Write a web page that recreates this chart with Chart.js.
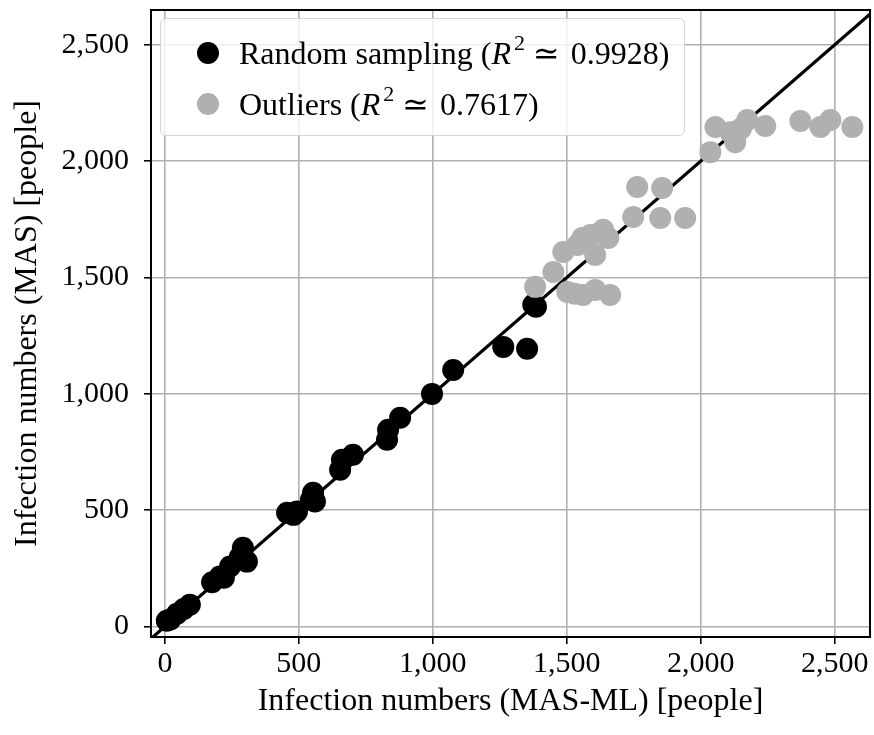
<!DOCTYPE html>
<html>
<head>
<meta charset="utf-8">
<script src="https://cdn.jsdelivr.net/npm/chart.js@4.4.0/dist/chart.umd.min.js"></script>
<style>
  body { margin: 0; background: #fff; }
  #wrap { position: relative; width: 874px; height: 735px; }
  #legend {
    position: absolute; left: 160px; top: 18px; width: 523px; height: 116px;
    border: 1.5px solid #d4d4d4; border-radius: 6px; background: rgba(255,255,255,0.8);
    font-family: "Liberation Serif", "DejaVu Serif", serif; font-size: 32px; color: #000;
  }
  .row { position: absolute; left: 0; height: 36px; line-height: 36px; white-space: nowrap; }
  .dot { position: absolute; left: 36px; top: 7px; width: 22px; height: 22px; border-radius: 50%; }
  .txt { position: absolute; left: 78px; top: 0; }
  .txt i { font-style: italic; }
  .txt sup { font-size: 22px; line-height: 0; vertical-align: 14px; padding-left: 3px; }
  .txt .op { padding: 0 11px 0 8px; }
</style>
</head>
<body>
<div id="wrap">
  <canvas id="grafico" width="874" height="735"></canvas>
  <div id="legend">
    <div class="row" style="top:16px"><div class="dot" style="background:#000"></div>
      <div class="txt">Random sampling (<i>R</i><sup>2</sup><span class="op">≃</span>0.9928)</div></div>
    <div class="row" style="top:67px"><div class="dot" style="background:#b0b0b0"></div>
      <div class="txt">Outliers (<i>R</i><sup>2</sup><span class="op">≃</span>0.7617)</div></div>
  </div>
</div>
<script>
(function() {

// muestreo aleatorio (negro)
const randomX = [7, 20, 45, 70, 93, 176, 205, 220, 243, 291, 306, 280,
                 456, 493, 480, 553, 560, 545, 654, 661, 702, 829, 833, 878,
                 997, 1076, 1263, 1352, 1375, 1385];
const randomY = [25, 30, 55, 75, 94, 190, 215, 210, 258, 339, 279, 300,
                 489, 494, 480, 575, 537, 545, 674, 717, 738, 803, 846, 897,
                 1000, 1103, 1202, 1194, 1383, 1375];

// outliers (gris)
const outX = [1382, 1450, 1487, 1502, 1530, 1561, 1606, 1662,
              1540, 1558, 1588, 1636, 1655, 1606, 1620, 1575,
              1748, 1763, 1856, 1849, 1942,
              2036, 2055, 2129, 2111, 2174, 2241, 2150,
              2372, 2447, 2484, 2566];
const outY = [1460, 1524, 1610, 1438, 1430, 1425, 1447, 1425,
              1640, 1670, 1683, 1705, 1670, 1597, 1690, 1650,
              1760, 1889, 1885, 1756, 1756,
              2039, 2147, 2082, 2125, 2177, 2151, 2140,
              2173, 2147, 2177, 2147];

// linea y = x
const lineaX = [-100, 2800];

// ticks de los ejes
const tickVals = [0, 500, 1000, 1500, 2000, 2500];

const axMin = [-52, -45];
const axMax = [2632, 2650];

function toPts(xs, ys) {
    return xs.map((x, i) => ({ x: x, y: ys[i] }));
}

const fuente = "'Liberation Serif', 'DejaVu Serif', serif";

const marco = {
    id: 'marco',
    afterDraw(chart) {
        const a = chart.chartArea, c = chart.ctx;
        c.save();
        c.strokeStyle = '#000';
        c.lineWidth = 2;
        c.strokeRect(a.left, a.top, a.right - a.left, a.bottom - a.top);
        c.restore();
    }
};

function fijarTicks(s) {
    s.ticks = tickVals.map(v => ({ value: v }));
}

// sin relleno extra por las etiquetas de los extremos
function sinRelleno(s) {
    s._calculatePadding = function() {
        this.paddingLeft = 0; this.paddingRight = 0;
        this.paddingTop = 0; this.paddingBottom = 0;
    };
}

const graph = document.getElementById('grafico');
new Chart(graph, {
    type: 'scatter',
    data: {
        datasets: [
            {
                label: 'Random sampling',
                data: toPts(randomX, randomY),
                backgroundColor: '#000',
                borderWidth: 0,
                pointRadius: 11,
                order: 2
            },
            {
                label: 'Outliers',
                data: toPts(outX, outY),
                backgroundColor: '#b0b0b0',
                borderWidth: 0,
                pointRadius: 11,
                order: 1
            },
            {
                label: 'y=x',
                type: 'line',
                data: toPts(lineaX, lineaX),
                borderColor: '#000',
                borderWidth: 3.2,
                pointRadius: 0,
                fill: false,
                order: 3
            }
        ]
    },
    plugins: [marco],
    options: {
        responsive: false,
        animation: false,
        layout: { autoPadding: false, padding: { top: 10, right: 4, left: 0, bottom: 0 } },
        plugins: { legend: { display: false }, tooltip: { enabled: false } },
        scales: {
            x: {
                type: 'linear',
                min: axMin[0], max: axMax[0],
                afterBuildTicks: fijarTicks,
                beforeFit: sinRelleno,
                afterFit(s) { s.height = 98; },
                grid: { color: '#b0b0b0', lineWidth: 1.6, tickLength: 7, tickColor: '#000', tickWidth: 1.6 },
                border: { display: false },
                ticks: {
                    color: '#000', padding: 2,
                    font: { family: fuente, size: 30 }, maxRotation: 0, autoSkip: false,
                    callback: v => v.toLocaleString('en-US')
                },
                title: {
                    display: true, text: 'Infection numbers (MAS-ML) [people]', color: '#000',
                    font: { family: fuente, size: 32 }, padding: { top: 0, bottom: 14 }
                }
            },
            y: {
                type: 'linear',
                min: axMin[1], max: axMax[1],
                afterBuildTicks: fijarTicks,
                beforeFit: sinRelleno,
                afterFit(s) { s.width = 151; },
                grid: { color: '#b0b0b0', lineWidth: 1.6, tickLength: 7, tickColor: '#000', tickWidth: 1.6 },
                border: { display: false },
                ticks: {
                    color: '#000', padding: 15, autoSkip: false,
                    font: { family: fuente, size: 30 },
                    callback: v => v.toLocaleString('en-US')
                },
                title: {
                    display: true, text: 'Infection numbers (MAS) [people]', color: '#000',
                    font: { family: fuente, size: 32 }, padding: { top: 8, bottom: 0 }
                }
            }
        }
    }
});

})();
</script>
</body>
</html>
